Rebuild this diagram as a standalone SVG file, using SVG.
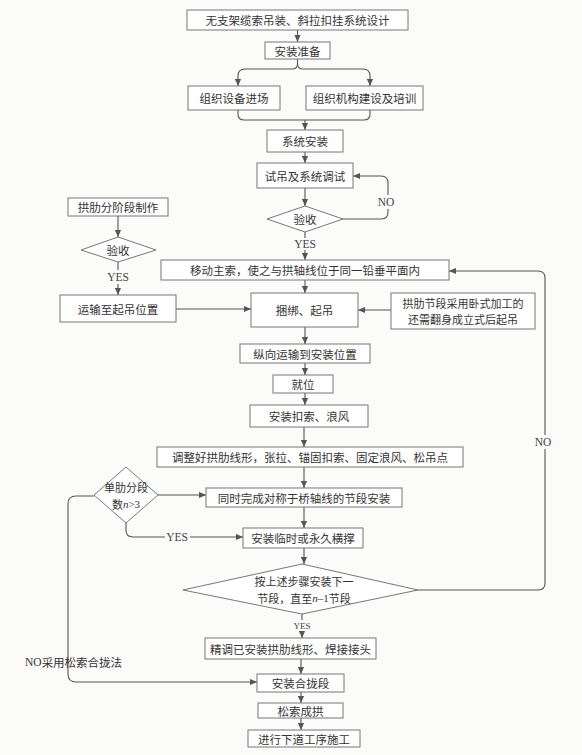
<svg xmlns="http://www.w3.org/2000/svg" width="582" height="755" viewBox="0 0 582 755">
<defs>
<style>
.b{fill:#fff;stroke:#777;stroke-width:1}
.t{font-family:"Noto Sans CJK SC","Noto Sans",sans-serif;font-size:11.5px;fill:#333;text-anchor:middle;dominant-baseline:central}
.l{font-family:"Liberation Serif","Noto Sans CJK SC",serif;font-size:11.5px;fill:#444;text-anchor:middle;dominant-baseline:central}
.s{font-family:"Liberation Serif",serif}
.c{fill:none;stroke:#555;stroke-width:1.1}
.bg{fill:#fbfbfa}
</style>
<marker id="a" viewBox="0 0 8 8" refX="8" refY="4" markerWidth="7" markerHeight="7" markerUnits="userSpaceOnUse" orient="auto">
<path d="M0,0.5 L8,4 L0,7.5 z" fill="#555"/>
</marker>
</defs>
<rect width="582" height="755" fill="#fbfbfa"/>

<g id="connectors">
<path class="c" d="M297.5,30 V42" marker-end="url(#a)"/>
<path class="c" d="M297.5,59 V64 Q297.5,69 292,69 H245 Q238,69 238,76 V86" marker-end="url(#a)"/>
<path class="c" d="M297.5,64 Q297.5,69 303,69 H363 Q370,69 370,76 V86" marker-end="url(#a)"/>
<path class="c" d="M238,110 V114 Q238,120 244,120 H364 Q370,120 370,114 V110"/>
<path class="c" d="M305,120 V130" marker-end="url(#a)"/>
<path class="c" d="M305,152 V163" marker-end="url(#a)"/>
<path class="c" d="M305,188 V206" marker-end="url(#a)"/>
<path class="c" d="M343,219 H381 Q388,219 388,212 V183 Q388,176 381,176 H353" marker-end="url(#a)"/>
<rect class="bg" x="376" y="195" width="20" height="14"/>
<text class="l" x="386" y="202">NO</text>
<path class="c" d="M305,232 V238"/>
<text class="l" x="305" y="244">YES</text>
<path class="c" d="M305,250 V260" marker-end="url(#a)"/>

<path class="c" d="M118,216 V237" marker-end="url(#a)"/>
<path class="c" d="M118,262 V270"/>
<text class="l" x="118" y="277">YES</text>
<path class="c" d="M118,284 V295" marker-end="url(#a)"/>
<path class="c" d="M176,309 H251" marker-end="url(#a)"/>
<path class="c" d="M391,310 H358" marker-end="url(#a)"/>
<path class="c" d="M305,280 V293" marker-end="url(#a)"/>
<path class="c" d="M305,327 V344" marker-end="url(#a)"/>
<path class="c" d="M305,363 V375" marker-end="url(#a)"/>
<path class="c" d="M305,393 V405" marker-end="url(#a)"/>
<path class="c" d="M304,427 V447" marker-end="url(#a)"/>
<path class="c" d="M304,467 V488" marker-end="url(#a)"/>
<path class="c" d="M158,495 H206" marker-end="url(#a)"/>
<path class="c" d="M304,507 V528" marker-end="url(#a)"/>
<path class="c" d="M126,523 V530 Q126,537 133,537 H165"/>
<text class="l" x="177" y="537">YES</text>
<path class="c" d="M190,537 H243" marker-end="url(#a)"/>
<path class="c" d="M304,548 V564" marker-end="url(#a)"/>
<path class="c" d="M418,590 H538 Q545,590 545,583 V278 Q545,271 538,271 H449" marker-end="url(#a)"/>
<rect class="bg" x="533" y="435" width="20" height="14"/>
<text class="l" x="543" y="442">NO</text>
<path class="c" d="M302,614 V620"/>
<text class="l" x="302" y="626" style="font-size:9px">YES</text>
<path class="c" d="M302,631 V638" marker-end="url(#a)"/>
<path class="c" d="M301,659 V674" marker-end="url(#a)"/>
<path class="c" d="M301,692 V703" marker-end="url(#a)"/>
<path class="c" d="M301,718 V730" marker-end="url(#a)"/>
<path class="c" d="M94,496 H76 Q68,496 68,504 V674 Q68,682 76,682 H257" marker-end="url(#a)"/>
<text class="t" x="25" y="662" style="text-anchor:start"><tspan class="s">NO</tspan>采用松索合拢法</text>
</g>

<g id="n1"><rect class="b" x="187" y="10" width="221" height="20"/><text class="t" x="297.5" y="20">无支架缆索吊装、斜拉扣挂系统设计</text></g>
<g id="n2"><rect class="b" x="265" y="42" width="65" height="17"/><text class="t" x="297.5" y="50.5">安装准备</text></g>
<g id="n3"><rect class="b" x="188" y="86" width="92" height="24"/><text class="t" x="234" y="98">组织设备进场</text></g>
<g id="n4"><rect class="b" x="306" y="86" width="117" height="24"/><text class="t" x="364.5" y="98">组织机构建设及培训</text></g>
<g id="n5"><rect class="b" x="267" y="130" width="76" height="22"/><text class="t" x="305" y="141">系统安装</text></g>
<g id="n6"><rect class="b" x="257" y="163" width="96" height="25"/><text class="t" x="305" y="175.5">试吊及系统调试</text></g>
<g id="n7"><polygon class="b" points="305,206 343,219 305,232 267,219"/><text class="t" x="305" y="219">验收</text></g>
<g id="n8"><rect class="b" x="68" y="198" width="100" height="18"/><text class="t" x="118" y="207">拱肋分阶段制作</text></g>
<g id="n9"><polygon class="b" points="118,237 156,250 118,262 81,250"/><text class="t" x="118" y="250">验收</text></g>
<g id="n10"><rect class="b" x="60" y="295" width="116" height="27"/><text class="t" x="118" y="308.5">运输至起吊位置</text></g>
<g id="n11"><rect class="b" x="161" y="260" width="288" height="20"/><text class="t" x="305" y="270">移动主索，使之与拱轴线位于同一铅垂平面内</text></g>
<g id="n12"><rect class="b" x="251" y="293" width="107" height="34"/><text class="t" x="304.5" y="310">捆绑、起吊</text></g>
<g id="n13"><rect class="b" x="391" y="293" width="144" height="36"/><text class="t" x="463" y="302.5" style="font-size:11px">拱肋节段采用卧式加工的</text><text class="t" x="463" y="319" style="font-size:11px">还需翻身成立式后起吊</text></g>
<g id="n14"><rect class="b" x="240" y="344" width="130" height="19"/><text class="t" x="305" y="353.5">纵向运输到安装位置</text></g>
<g id="n15"><rect class="b" x="273" y="375" width="60" height="18"/><text class="t" x="303" y="384">就位</text></g>
<g id="n16"><rect class="b" x="250" y="405" width="118" height="22"/><text class="t" x="309" y="416">安装扣索、浪风</text></g>
<g id="n17"><rect class="b" x="157" y="447" width="306" height="20"/><text class="t" x="310" y="457">调整好拱肋线形，张拉、锚固扣索、固定浪风、松吊点</text></g>
<g id="n18"><polygon class="b" points="126,467 158,495 126,523 94,495"/><text class="t" x="126" y="487" style="font-size:11px">单肋分段</text><text class="t" x="126" y="504" style="font-size:11px">数<tspan class="s" font-style="italic">n</tspan><tspan class="s">&gt;3</tspan></text></g>
<g id="n19"><rect class="b" x="206" y="488" width="196" height="19"/><text class="t" x="304" y="497.5">同时完成对称于桥轴线的节段安装</text></g>
<g id="n20"><rect class="b" x="243" y="528" width="120" height="20"/><text class="t" x="303" y="538">安装临时或永久横撑</text></g>
<g id="n21"><polygon class="b" points="302,564 418,590 302,614 183,590"/><text class="t" x="304" y="581" style="font-size:11px">按上述步骤安装下一</text><text class="t" x="304" y="598" style="font-size:11px">节段，直至<tspan class="s" font-style="italic">n</tspan><tspan class="s">–1</tspan>节段</text></g>
<g id="n22"><rect class="b" x="205" y="638" width="171" height="21"/><text class="t" x="290.5" y="648.5">精调已安装拱肋线形、焊接接头</text></g>
<g id="n23"><rect class="b" x="257" y="674" width="87" height="18"/><text class="t" x="300.5" y="683">安装合拢段</text></g>
<g id="n24"><rect class="b" x="258" y="703" width="85" height="15"/><text class="t" x="300.5" y="710.5">松索成拱</text></g>
<g id="n25"><rect class="b" x="248" y="730" width="112" height="17"/><text class="t" x="304" y="738.5">进行下道工序施工</text></g>
</svg>
